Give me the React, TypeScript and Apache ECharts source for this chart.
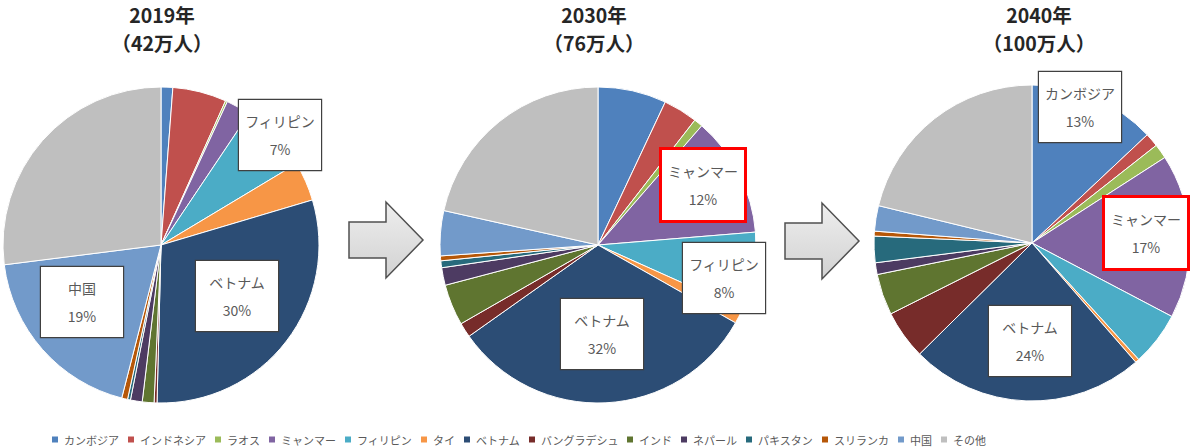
import React, { useEffect, useRef } from 'react';
import * as echarts from 'echarts';

const categories = ['カンボジア', 'インドネシア', 'ラオス', 'ミャンマー', 'フィリピン', 'タイ', 'ベトナム', 'バングラデシュ', 'インド', 'ネパール', 'パキスタン', 'スリランカ', '中国', 'その他'];
const colors = ['#4F81BD', '#C0504D', '#9BBB59', '#8064A2', '#4BACC6', '#F79646', '#2C4D75', '#772C2A', '#5F7530', '#4D3B62', '#276A7C', '#B65708', '#729ACA', '#BFBFBF'];

const values2019 = [1.2, 5.5, 0.2, 2.5, 7.0, 4.0, 30.0, 0.3, 1.2, 1.2, 0.3, 0.6, 19.0, 27.0];
const values2030 = [7.0, 3.5, 0.9, 12.3, 8.0, 1.5, 32.0, 1.5, 4.2, 1.8, 0.7, 0.5, 4.6, 21.5];
const values2040 = [13.0, 1.4, 1.5, 16.8, 5.5, 0.4, 24.0, 5.0, 4.2, 1.2, 2.7, 0.5, 2.6, 21.2];

const titleYears = ['2019年', '2030年', '2040年'];
const titleTotals = ['（42万人）', '（76万人）', '（100万人）'];

const FONT = '"Noto Sans CJK JP", "Noto Sans", sans-serif';

export default function App() {
  const ref = useRef<HTMLDivElement>(null);

  useEffect(() => {
    document.body.style.margin = '0';
    const chart = echarts.init(ref.current as HTMLDivElement, null, { renderer: 'svg' });

    const pies = [
      {
        values: values2019,
        center: [161, 245],
        titleX: 162,
        labels: { 4: [280, 135], 6: [237, 296], 12: [82, 302] } as Record<number, number[]>,
        red: [] as number[],
      },
      {
        values: values2030,
        center: [598, 245],
        titleX: 594,
        labels: { 3: [703, 185], 4: [724, 278], 6: [602, 334] } as Record<number, number[]>,
        red: [3],
      },
      {
        values: values2040,
        center: [1032, 243],
        titleX: 1039,
        labels: { 0: [1080, 107], 3: [1146, 233], 6: [1030, 341] } as Record<number, number[]>,
        red: [3],
      },
    ];

    const series = pies.map((p) => ({
      type: 'pie',
      center: p.center,
      radius: 158,
      startAngle: 90,
      clockwise: true,
      avoidLabelOverlap: false,
      silent: true,
      itemStyle: { borderColor: '#ffffff', borderWidth: 1 },
      label: { show: false },
      labelLine: { show: false },
      emphasis: { disabled: true },
      labelLayout: (params: any) => {
        const t = p.labels[params.dataIndex];
        if (!t) return {};
        return { x: t[0], y: t[1], align: 'center', verticalAlign: 'middle' };
      },
      data: categories.map((name, i) => {
        const labelled = p.labels[i] !== undefined;
        const isRed = p.red.indexOf(i) >= 0;
        return {
          name,
          value: p.values[i],
          label: labelled
            ? {
                show: true,
                position: 'inside',
                formatter: (prm: any) => `${prm.name}\n${Math.round(prm.percent)}%`,
                color: '#595959',
                fontFamily: FONT,
                fontSize: 14,
                lineHeight: 28,
                backgroundColor: '#ffffff',
                borderColor: isRed ? '#FF0000' : '#404040',
                borderWidth: isRed ? 3 : 1.2,
                padding: [7, 6],
                width: 70,
                overflow: 'none',
                align: 'center',
              }
            : { show: false },
        };
      }),
    }));

    const arrow = (x0: number, y: number) => {
      const bodyEnd = x0 + 37;
      const tip = x0 + 74;
      return {
        type: 'polygon',
        shape: {
          points: [
            [x0, y - 18],
            [bodyEnd, y - 18],
            [bodyEnd, y - 38],
            [tip, y],
            [bodyEnd, y + 38],
            [bodyEnd, y + 18],
            [x0, y + 18],
          ],
        },
        style: {
          fill: new echarts.graphic.LinearGradient(0, 0, 0, 1, [
            { offset: 0, color: '#eeeeee' },
            { offset: 1, color: '#d2d2d2' },
          ]),
          stroke: '#505050',
          lineWidth: 1.5,
        },
        silent: true,
      };
    };

    const titleStyle = {
      fontFamily: FONT,
      fontSize: 19.5,
      fontWeight: 'bold',
      lineHeight: 28.5,
      color: '#262626',
    };

    const option: any = {
      animation: false,
      color: colors,
      backgroundColor: '#ffffff',
      textStyle: { fontFamily: FONT },
      title: pies.map((p, i) => ({
        text: titleYears[i],
        subtext: titleTotals[i],
        left: p.titleX,
        top: 0,
        padding: 0,
        itemGap: 0,
        textAlign: 'center',
        textStyle: titleStyle,
        subtextStyle: titleStyle,
      })),
      legend: {
        data: categories,
        left: 45,
        top: 429,
        icon: 'rect',
        itemWidth: 8,
        itemHeight: 8,
        itemGap: 7,
        selectedMode: false,
        textStyle: { color: '#595959', fontSize: 11, fontFamily: FONT },
      },
      graphic: [arrow(349, 240), arrow(785, 241)],
      series,
    };

    chart.setOption(option);
    return () => chart.dispose();
  }, []);

  return <div ref={ref} style={{ width: 1200, height: 448 }} />;
}
